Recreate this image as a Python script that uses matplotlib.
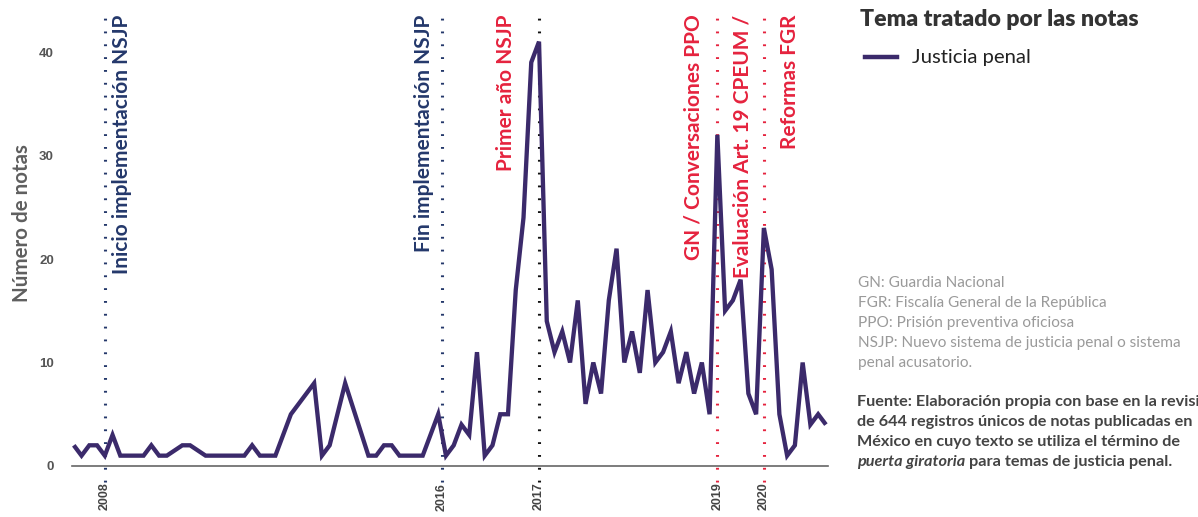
import matplotlib
matplotlib.use("Agg")
import matplotlib.pyplot as plt
from matplotlib.transforms import blended_transform_factory
import numpy as np

# ---- data (monthly categories; None = month absent for this topic) ----
notas = [2, 1, 2, 2, 1, 3, 1, 1, 1, 1,
         2, 1, 1, None, 2, 2, None, 1, 1, 1,
         1, 1, 1, 2, 1, 1, 1, None, 5, None,
         None, 8, 1, 2, None, 8, None, None, 1, 1,
         2, 2, 1, 1, 1, 1, None, 5, 1, 2,
         4, 3, 11, 1, 2, 5, 5, 17, 24, 39,
         41, 14, 11, 13, 10, 16, 6, 10, 7, 16,
         21, 10, 13, 9, 17, 10, 11, 13, 8, 11,
         7, 10, 5, 32, 15, 16, 18, 7, 5, 23,
         19, 5, 1, 2, 10, 4, 5, 4]

year_ticks = [4, 47.45, 60, 83, 89]
year_labels = ["2008", "2016", "2017", "2019", "2020"]

events = [
    # (line position, colour key, label, label position)
    (4, "navy", "Inicio implementación NSJP", 6.2),
    (47.45, "navy", "Fin implementación NSJP", 45.2),
    (60, "black", "Primer año NSJP", 55.7),
    (83, "red", "GN / Conversaciones PPO", 79.9),
    (83, "red", "Evaluación Art. 19 CPEUM /", 86.3),
    (89, "red", "Reformas FGR", 92.4),
]

serie_label = "Justicia penal"
legend_title = "Tema tratado por las notas"
notes = ["GN: Guardia Nacional",
         "FGR: Fiscalía General de la República",
         "PPO: Prisión preventiva oficiosa",
         "NSJP: Nuevo sistema de justicia penal o sistema",
         "penal acusatorio."]
fuente = ["Fuente: Elaboración propia con base en la revisión",
          "de 644 registros únicos de notas publicadas en",
          "México en cuyo texto se utiliza el término de"]
fuente_it = "puerta giratoria"
fuente_end = " para temas de justicia penal."

colors = {"navy": "#24386b", "black": "#111111", "red": "#e5233e"}
line_color = "#3b2a6b"

plt.rcParams['font.family'] = ['Lato', 'DejaVu Sans']

W, H = 1198, 517
fig = plt.figure(figsize=(W / 100, H / 100), dpi=100)
ax = fig.add_axes([72 / W, 51 / H, 756 / W, 450 / H])

x = np.arange(len(notas))
y = np.array([np.nan if v is None else v for v in notas], dtype=float)
mask = ~np.isnan(y)
ax.plot(x[mask], y[mask], color=line_color, lw=3.1, solid_joinstyle='miter',
        solid_capstyle='butt', zorder=3)

ax.set_xlim(-0.23, 97.27)
ax.set_ylim(0, 43.48)

for s in ["top", "right", "left"]:
    ax.spines[s].set_visible(False)
ax.spines["bottom"].set_color("#666666")
ax.spines["bottom"].set_linewidth(1.2)

ax.set_yticks([0, 10, 20, 30, 40])
ax.set_yticklabels(["0", "10", "20", "30", "40"], fontfamily="Liberation Sans",
                   fontweight="bold", fontsize=9.5, color="#555555")
ax.tick_params(axis="y", length=0, pad=13)
ax.set_xticks(year_ticks)
ax.set_xticklabels(year_labels, rotation=90, fontfamily="Liberation Sans",
                   fontweight="bold", fontsize=9, color="#444444")
ax.tick_params(axis="x", length=0, pad=12)

ax.set_ylabel("Número de notas", fontsize=14.8, fontweight="bold", color="#5f5f5f")
ax.yaxis.set_label_coords(-40 / 756, 0.54)

trans = blended_transform_factory(ax.transData, ax.transAxes)
drawn = set()
for pos, ck, label, lpos in events:
    if pos not in drawn:
        ax.plot([pos, pos], [-0.035, 0.995], transform=trans, color=colors[ck],
                lw=2.2, linestyle=(0, (0.6, 3.6)), dash_capstyle='butt',
                clip_on=False, zorder=2)
        drawn.add(pos)
    ax.text(lpos, 1.003, label, transform=trans, rotation=90, ha="center", va="top",
            fontsize=15, fontweight="bold",
            color=colors[ck] if ck != "black" else colors["red"])

# legend block
fig.text(860 / W, 1 - 19 / H, legend_title, fontsize=16.6, fontweight="heavy",
         color="#333333", va="center", ha="left")
fig.add_artist(plt.Line2D([865 / W, 897 / W], [1 - 57 / H, 1 - 57 / H],
                          color=line_color, lw=3.2, transform=fig.transFigure))
fig.text(912 / W, 1 - 57 / H, serie_label, fontsize=14.6, color="#222222",
         va="center", ha="left")

for i, t in enumerate(notes):
    fig.text(858 / W, 1 - (283 + i * 20) / H, t, fontsize=11.1, color="#9a9a9a",
             va="center", ha="left")

for i, t in enumerate(fuente):
    fig.text(857 / W, 1 - (402 + i * 20) / H, t, fontsize=11.7, color="#444444",
             va="center", ha="left", fontweight="bold")
t_it = fig.text(857 / W, 1 - (402 + 3 * 20) / H, fuente_it, fontsize=11.7,
                color="#444444", va="center", ha="left", fontweight="bold",
                fontstyle="italic")
fig.canvas.draw()
bb = t_it.get_window_extent()
fig.text(bb.x1 / W, 1 - (402 + 3 * 20) / H, fuente_end, fontsize=11.7,
         color="#444444", va="center", ha="left", fontweight="bold")

fig.savefig("out.png", dpi=100)
